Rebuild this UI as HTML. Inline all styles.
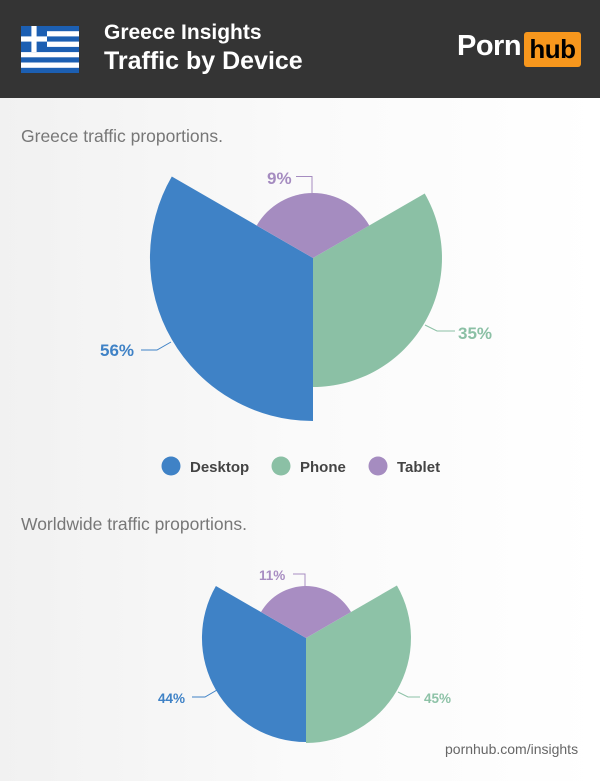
<!DOCTYPE html>
<html><head><meta charset="utf-8">
<style>
html,body{margin:0;padding:0}
body{width:600px;height:781px;position:relative;overflow:hidden;font-family:"Liberation Sans",sans-serif;background:linear-gradient(90deg,#f1f1f1 0%,#fafafa 50%,#fff 100%)}
.hdr{position:absolute;left:0;top:0;width:600px;height:98px;background:#343434}
.t1{position:absolute;left:104px;top:21px;color:#fff;font-weight:bold;font-size:21px}
.t2{position:absolute;left:104px;top:47px;color:#fff;font-weight:bold;font-size:25px}
.porn{position:absolute;left:457px;top:30px;color:#fff;font-weight:bold;font-size:29px;letter-spacing:-0.5px}
.hub{position:absolute;left:524px;top:32px;width:57px;height:35px;background:#f7971d;border-radius:3px;color:#000;font-weight:bold;font-size:26px;text-align:center;line-height:34px;letter-spacing:-0.5px}
.sec{position:absolute;left:21px;color:#777;font-size:17.5px}
.foot{position:absolute;left:445px;top:741px;color:#666;font-size:14px}
</style></head><body>
<div class="hdr"></div>
<svg style="position:absolute;left:21px;top:26px" width="58" height="47" viewBox="0 0 58 47">
<rect width="58" height="47" fill="#fff"/>
<g fill="#1c5fb2">
<rect y="0" width="58" height="5.2"/><rect y="10.4" width="58" height="5.2"/><rect y="20.9" width="58" height="5.2"/><rect y="31.3" width="58" height="5.2"/><rect y="41.8" width="58" height="5.2"/>
<rect width="26" height="26" /></g>
<rect x="10.4" y="0" width="5.2" height="26" fill="#fff"/><rect x="0" y="10.4" width="26" height="5.2" fill="#fff"/>
</svg>
<div class="t1">Greece Insights</div>
<div class="t2">Traffic by Device</div>
<div class="porn">Porn</div><div class="hub">hub</div>
<div class="sec" style="top:126px">Greece traffic proportions.</div>
<div class="sec" style="top:514px">Worldwide traffic proportions.</div>
<svg style="position:absolute;left:0;top:0" width="600" height="781">
<g font-family="Liberation Sans, sans-serif" font-weight="bold">
<path d="M313,258 L313,421 A163,163 0 0 1 171.8,176.5 Z" fill="#3f82c6"/>
<path d="M313,258 L424.7,193.5 A129,129 0 0 1 313,387 Z" fill="#8bc0a5"/>
<path d="M313,258 L256.7,225.5 A65,65 0 0 1 369.3,225.5 Z" fill="#a58cc0"/>
<polyline points="296,176.5 312,176.5 312,193" fill="none" stroke="#a58cc0" stroke-width="1"/>
<polyline points="425,325 437,331 455,331" fill="none" stroke="#8bc0a5" stroke-width="1"/>
<polyline points="141,350 157,350 171,342" fill="none" stroke="#3f82c6" stroke-width="1"/>
<text x="267" y="184" font-size="17" fill="#a58cc0">9%</text>
<text x="458" y="339" font-size="17" fill="#8bc0a5">35%</text>
<text x="100" y="356" font-size="17" fill="#3f82c6">56%</text>
<circle cx="171" cy="466" r="9.5" fill="#3f82c6"/>
<circle cx="281" cy="466" r="9.5" fill="#8bc0a5"/>
<circle cx="378" cy="466" r="9.5" fill="#a58cc0"/>
<text x="190" y="472" font-size="15" fill="#444">Desktop</text>
<text x="300" y="472" font-size="15" fill="#444">Phone</text>
<text x="397" y="472" font-size="15" fill="#444">Tablet</text>
<path d="M306,638 L306,742 A104,104 0 0 1 215.9,586 Z" fill="#3f82c6"/>
<path d="M306,638 L396.9,585.5 A105,105 0 0 1 306,743 Z" fill="#8dc2a7"/>
<path d="M306,638 L261,612 A52,52 0 0 1 351,612 Z" fill="#a88dc2"/>
<polyline points="293,574 305,574 305,587" fill="none" stroke="#a88dc2" stroke-width="1"/>
<polyline points="398,692 408,697 420,697" fill="none" stroke="#8dc2a7" stroke-width="1"/>
<polyline points="192,697 205,697 217,690" fill="none" stroke="#3f82c6" stroke-width="1"/>
<text x="259" y="580" font-size="13.5" fill="#a88dc2">11%</text>
<text x="424" y="703" font-size="13.5" fill="#8dc2a7">45%</text>
<text x="158" y="703" font-size="13.5" fill="#3f82c6">44%</text>
</g>
</svg>
<div class="foot">pornhub.com/insights</div>
</body></html>
